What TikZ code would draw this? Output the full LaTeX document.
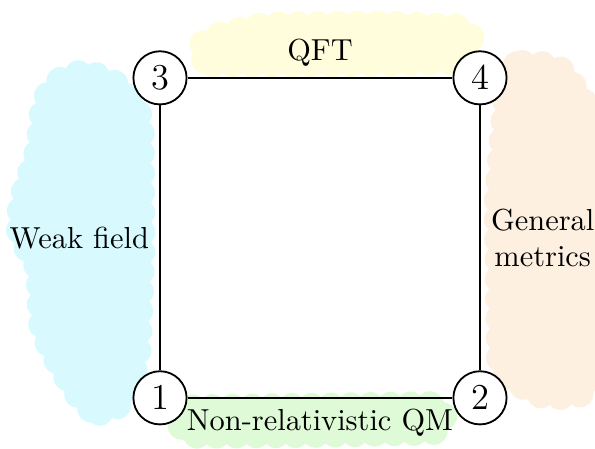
\documentclass[tikz,border=0pt]{standalone}
\usepackage{xcolor}
\usepackage{tikz}
\usepackage{amsmath}
\usetikzlibrary{calc}
\usetikzlibrary{shapes.misc,calc, positioning, backgrounds, decorations.pathmorphing}

\definecolor{blobcyan}{RGB}{216,250,255}
\definecolor{blobyellow}{RGB}{255,253,220}
\definecolor{blobpeach}{RGB}{253,240,224}
\definecolor{blobgreen}{RGB}{223,250,215}

\begin{document}
\begin{tikzpicture}[-,auto,node distance=3.7cm,
                    semithick,main node/.style={circle,fill=white,draw,inner sep=0pt,minimum size=17.5pt,font=\large},
                    blob/.style={draw=#1,fill=#1,line width=5pt,line join=round,rounded corners=4pt,
                      postaction={draw=#1,line width=9pt,line cap=round,dash pattern=on 0pt off 6.5pt}}]
  \useasboundingbox (-1.85,-0.59) rectangle (5.03,4.60);

  \node[main node] (1) {$1$};
  \node[main node] (2) [right of=1] {$2$};
  \node[main node] (3) [above of=1] {$3$};
  \node[main node] (4) [right of=3] {$4$};

  \path
    (1) edge node[swap] {Non-relativistic QM} (2)
    (3) edge node {QFT} (4)
    (3) edge node[swap] {Weak field} (1)
    (4) edge node[align=center] {General\\metrics} (2)
    ;

  \begin{scope}[on background layer]
    % highlighted regions
    \draw[blob=blobyellow] (0.47,3.87) -- (1.5,3.86) -- (2.6,3.87) -- (3.6,3.9)
      -- (3.6,4.28) -- (2.6,4.32) -- (1.2,4.31) -- (0.47,4.14) -- cycle;
    \draw[blob=blobcyan] (-0.87,3.77) -- (-0.46,3.62) -- (-0.22,3.27) -- (-0.21,1.71)
      -- (-0.26,0.44) -- (-0.44,-0.08) -- (-0.69,-0.21) -- (-0.87,-0.08) -- (-1.13,0.32)
      -- (-1.37,0.79) -- (-1.40,1.54) -- (-1.64,1.88) -- (-1.60,2.29) -- (-1.40,2.87)
      -- (-1.34,3.45) -- (-1.16,3.70) -- cycle;
    \draw[blob=blobpeach] (4.05,3.87) -- (4.62,3.84) -- (4.96,3.33) -- (4.96,0.05)
      -- (4.45,0.0) -- (3.93,0.28) -- (3.90,2.29) -- (3.99,3.33) -- cycle;
    \draw[blob=blobgreen] (0.24,-0.12) -- (1.8,-0.1) -- (3.28,-0.08) -- (3.28,-0.39)
      -- (1.8,-0.42) -- (0.24,-0.43) -- cycle;
  \end{scope}
\end{tikzpicture}
\end{document}
